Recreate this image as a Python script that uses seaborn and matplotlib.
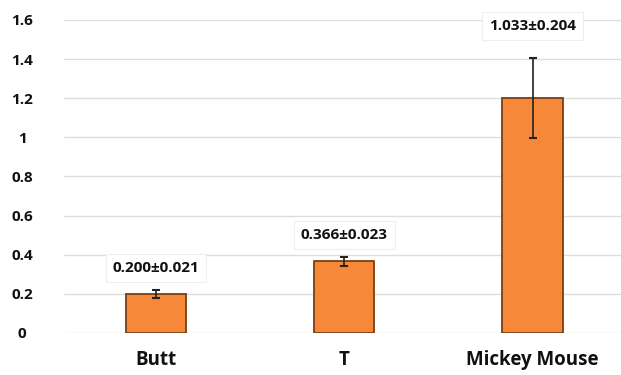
import matplotlib
matplotlib.use("Agg")
import matplotlib.pyplot as plt
import seaborn as sns
import pandas as pd

categories = ["Butt", "T", "Mickey Mouse"]
values = [0.200, 0.366, 1.200]
errors = [0.021, 0.023, 0.204]
labels = ["0.200±0.021", "0.366±0.023", "1.033±0.204"]
yticks = [0, 0.2, 0.4, 0.6, 0.8, 1.0, 1.2, 1.4, 1.6]
ytick_labels = ["0", "0.2", "0.4", "0.6", "0.8", "1", "1.2", "1.4", "1.6"]

sns.set_theme(style="white")
plt.rcParams['font.family'] = ['Open Sans', 'DejaVu Sans']

df = pd.DataFrame({"cat": categories, "val": values})

fig = plt.figure(figsize=(6.21, 3.75), dpi=100)
ax = fig.add_axes([0.103, 0.112, 0.897, 0.835])

sns.barplot(data=df, x="cat", y="val", ax=ax, color="#F7883A", width=0.32,
            edgecolor="#7A3E12", linewidth=1.3, saturation=1)
ax.errorbar(range(len(categories)), values, yerr=errors, fmt="none",
            ecolor="#222222", elinewidth=1.2, capsize=3, capthick=1.5, zorder=5)

for i, (v, e, t) in enumerate(zip(values, errors, labels)):
    y = v + e + 0.11
    if y > 1.45:
        y = 1.57
    ax.text(i, y, t, ha="center", va="center", fontsize=11, fontweight="bold",
            color="#111111",
            bbox=dict(boxstyle="square,pad=0.45", fc="white", ec="#EEEEEE", lw=0.8))

ax.set_ylim(0, 1.6)
ax.set_xlim(-0.49, 2.47)
ax.set_yticks(yticks)
ax.set_yticklabels(ytick_labels, fontsize=11, fontweight="bold", color="#111111")
ax.tick_params(axis="y", length=0, pad=30)
ax.tick_params(axis="x", length=0, pad=12)
for lbl in ax.get_xticklabels():
    lbl.set_fontsize(13.5)
    lbl.set_fontweight("bold")
    lbl.set_color("#111111")
ax.set_xlabel("")
ax.set_ylabel("")
ax.yaxis.grid(True, color="#DDDDDD", linewidth=1)
ax.set_axisbelow(True)
for s in ax.spines.values():
    s.set_visible(False)
for lbl in ax.get_yticklabels():
    lbl.set_horizontalalignment("center")

fig.savefig("out.png", dpi=100)
